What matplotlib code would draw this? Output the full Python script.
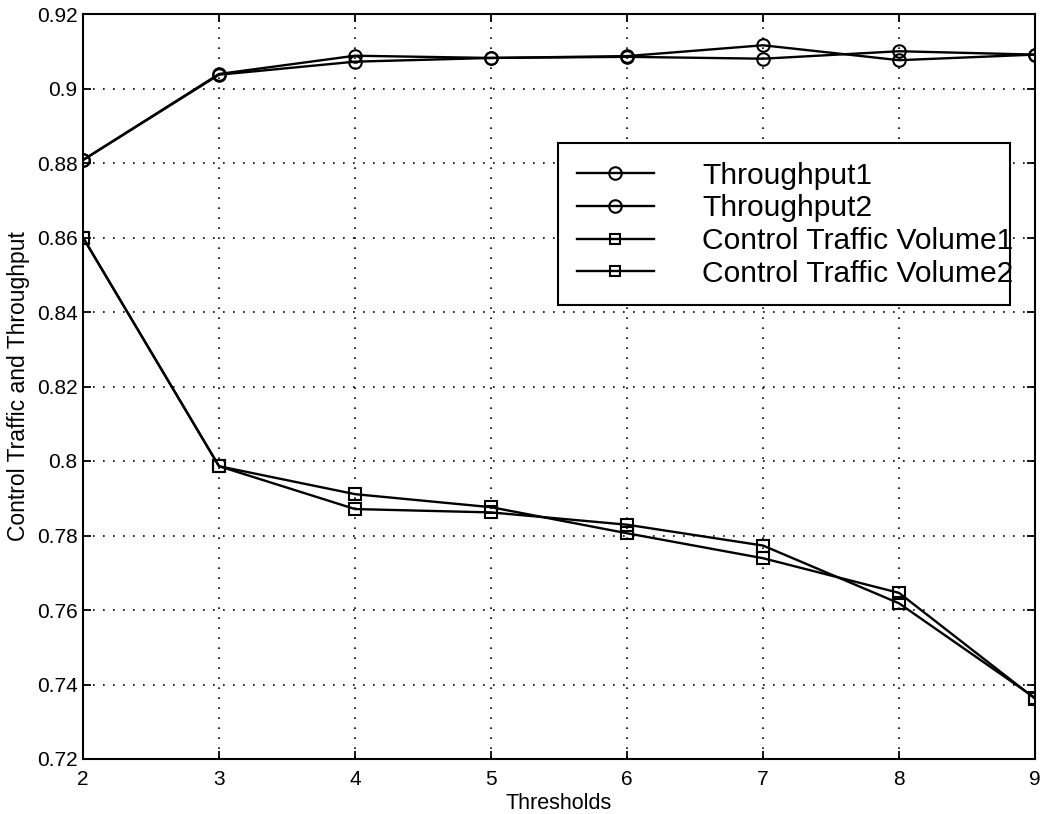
import matplotlib
matplotlib.use("Agg")
import matplotlib.pyplot as plt
from matplotlib.patches import Rectangle

plt.rcParams['font.family'] = ['Liberation Sans', 'DejaVu Sans']

thresholds = [2, 3, 4, 5, 6, 7, 8, 9]
throughput1 = [0.8808, 0.9039, 0.9088, 0.9082, 0.9087, 0.9116, 0.9076, 0.9091]
throughput2 = [0.8808, 0.9037, 0.9072, 0.9082, 0.9085, 0.9080, 0.9100, 0.9091]
control_traffic1 = [0.8600, 0.7986, 0.7911, 0.7876, 0.7806, 0.7739, 0.7646, 0.7362]
control_traffic2 = [0.8600, 0.7986, 0.7871, 0.7862, 0.7829, 0.7773, 0.7618, 0.7364]

series_labels = ['Throughput1', 'Throughput2',
                 'Control Traffic Volume1', 'Control Traffic Volume2']
x_ticks = [2, 3, 4, 5, 6, 7, 8, 9]
y_ticks = [0.72, 0.74, 0.76, 0.78, 0.8, 0.82, 0.84, 0.86, 0.88, 0.9, 0.92]
y_tick_labels = ['0.72', '0.74', '0.76', '0.78', '0.8', '0.82', '0.84',
                 '0.86', '0.88', '0.9', '0.92']

fig = plt.figure(figsize=(10.42, 8.14), dpi=100)
ax = fig.add_axes([83 / 1042, 1 - 759 / 814, 952 / 1042, 745 / 814])

line_kw = dict(color='black', linewidth=1.7, markerfacecolor='none',
               markeredgecolor='black', markeredgewidth=1.5, zorder=3)
h1, = ax.plot(thresholds, throughput1, marker='o', markersize=9, **line_kw)
h2, = ax.plot(thresholds, throughput2, marker='o', markersize=9, **line_kw)
h3, = ax.plot(thresholds, control_traffic1, marker='s', markersize=8, **line_kw)
h4, = ax.plot(thresholds, control_traffic2, marker='s', markersize=8, **line_kw)

ax.set_xlim(2, 9)
ax.set_ylim(0.72, 0.92)
ax.set_xticks(x_ticks)
ax.set_yticks(y_ticks)
ax.set_yticklabels(y_tick_labels)
ax.tick_params(direction='in', length=6, width=1.3, top=True, right=True,
               labelsize=15, colors='black')
ax.tick_params(axis='x', pad=8)
ax.tick_params(axis='y', pad=4)
for spine in ax.spines.values():
    spine.set_linewidth(1.5)
    spine.set_color('black')

ax.grid(True, color='black', linestyle=(0, (1, 5)), linewidth=1.2, zorder=1)
ax.set_axisbelow(True)

ax.set_xlabel('Thresholds', fontsize=15.5, labelpad=3)
ax.set_ylabel('Control Traffic and Throughput', fontsize=16.5, labelpad=5)

# legend box with its entries drawn on top
ax.add_patch(Rectangle((0.499, 0.6094), 0.475, 0.2174, transform=ax.transAxes,
                       facecolor='white', edgecolor='black', linewidth=1.5,
                       zorder=4))
leg_handles = []
for mk, ms in [('o', 9), ('o', 9), ('s', 7), ('s', 7)]:
    hh, = ax.plot([], [], marker=mk, markersize=ms, color='black', linewidth=1.7,
                  markerfacecolor='none', markeredgewidth=1.5)
    leg_handles.append(hh)
leg = ax.legend(leg_handles, series_labels, loc='upper left',
                bbox_to_anchor=(0.519, 0.802), frameon=False, fontsize=21.6,
                handlelength=2.55, handletextpad=1.62, labelspacing=0.16,
                borderpad=0, borderaxespad=0)
leg.set_zorder(5)

fig.savefig('out.png', dpi=100, facecolor='white')
